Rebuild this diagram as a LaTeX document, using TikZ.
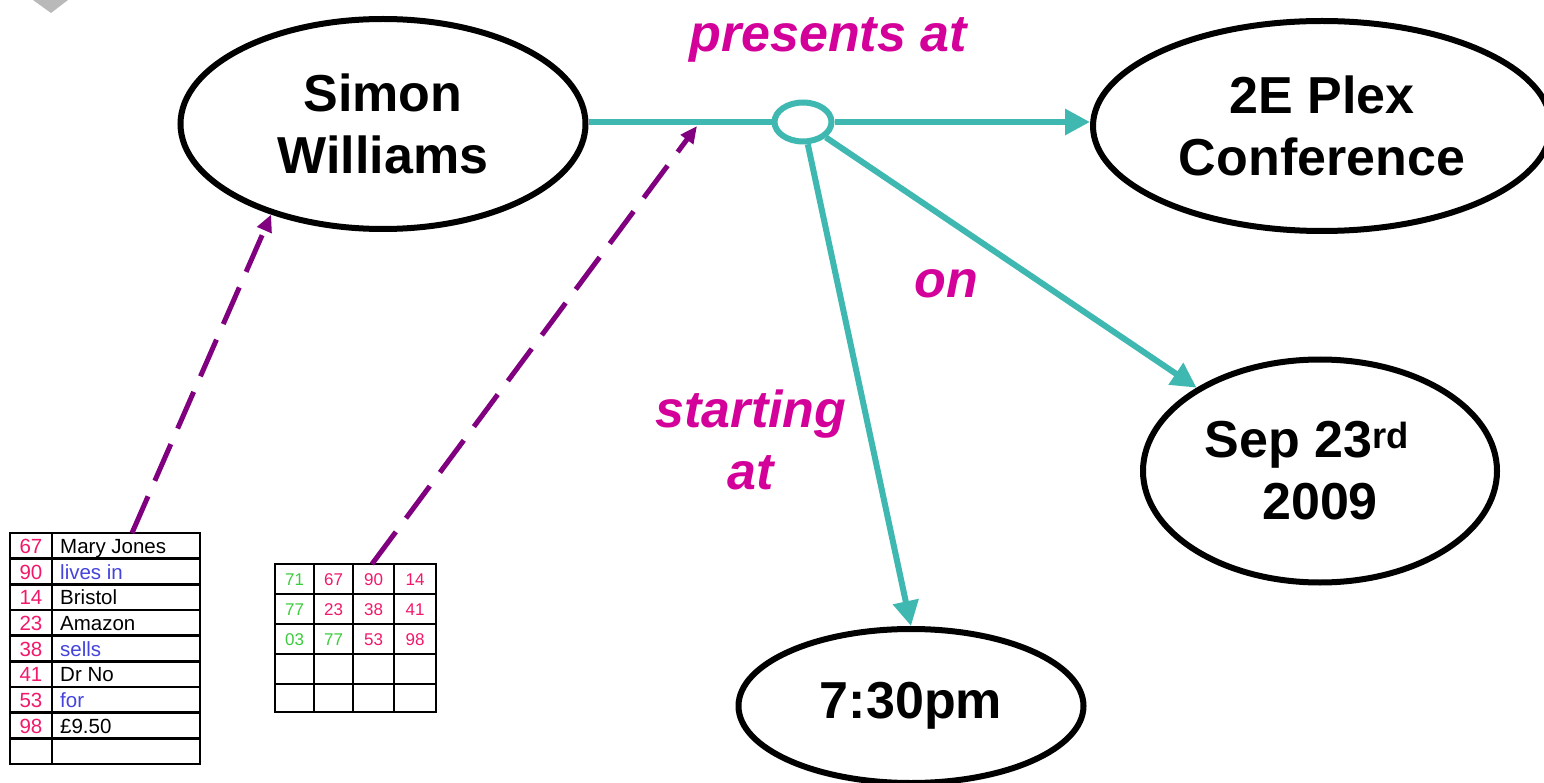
\documentclass[tikz,border=0pt]{standalone}
\usepackage{fontspec}
\setmainfont{Liberation Sans}
\usetikzlibrary{shapes.geometric,arrows.meta}
\definecolor{tealc}{HTML}{3FB8B1}
\definecolor{purp}{HTML}{800080}
\definecolor{mag}{HTML}{D4009A}
\definecolor{numpink}{HTML}{F2186B}
\definecolor{tblue}{HTML}{4444DD}
\definecolor{tgreen}{HTML}{3DCC3D}
\begin{document}
\begin{tikzpicture}[x=1pt,y=-1pt,
  ent/.style={ellipse,draw=black,line width=6pt,inner sep=0pt,align=center,
    font=\bfseries\fontsize{52}{62}\selectfont},
  rel/.style={draw=tealc,line width=6pt},
  relarrow/.style={rel,-{Triangle[length=25pt,width=25pt]}},
  link/.style={draw=purp,line width=5pt,dash pattern=on 40pt off 17pt,
    -{Triangle[length=17pt,width=15pt]}},
  lab/.style={text=mag,align=center,font=\bfseries\itshape\fontsize{52}{62}\selectfont},
  grid/.style={draw=black,line width=2.5pt},
  numa/.style={text=numpink,anchor=base,font=\fontsize{20.5}{24}\selectfont,inner sep=0pt},
  txta/.style={anchor=base west,font=\fontsize{20.5}{24}\selectfont,inner sep=0pt},
  numb/.style={anchor=base,font=\fontsize{17}{20}\selectfont,inner sep=0pt}
]
\useasboundingbox (0,0) rectangle (1544,783);
\fill[white] (0,0) rectangle (1544,783);
% small grey marker at top left
\fill[gray!55] (33,0) -- (68,0) -- (51,13) -- cycle;

% entity ellipses
\node[ent,minimum width=405pt,minimum height=210pt] (simon) at (383,124) {Simon\\Williams};
\node[ent,minimum width=458pt,minimum height=210pt] (plex) at (1322,126) {2E Plex\\Conference};
\node[ent,minimum width=354pt,minimum height=223pt] (sep) at (1320,471) {Sep 23\textsuperscript{rd}\hspace*{26pt}\\2009};
\node[ent,minimum width=345pt,minimum height=154pt] (time) at (911,706) {7:30pm};

% relation hub
\node[ellipse,draw=tealc,line width=6pt,minimum width=57pt,minimum height=39pt,inner sep=0pt] (hub) at (803,122) {};

% relation connectors
\draw[rel] (hub.west) -- (hub.west -| simon.east);
\draw[relarrow] (hub.east) -- (hub.east -| plex.west);
\draw[relarrow] (hub) -- (sep);
\draw[relarrow] (hub) -- (time.north);

% labels
\node[lab,anchor=base] (lpres) at (828,52) {presents at};
\node[lab,anchor=base] (lon) at (946,298) {on};
\node[lab] (lstart) at (751,440) {starting\\at};

% table 1
\draw[grid] (10,533) rectangle (200,764);
\draw[grid] (52,533) -- (52,764);
\foreach \k in {1,...,8} {
  \draw[grid] (10,{533+25.667*\k}) -- (200,{533+25.667*\k});
}
\foreach \k/\n/\t/\c in {0/67/Mary Jones/black,1/90/lives in/tblue,2/14/Bristol/black,
  3/23/Amazon/black,4/38/sells/tblue,5/41/Dr No/black,6/53/for/tblue,7/98/£9.50/black} {
  \node[numa] (ta\k) at (31,{533+25.667*\k+20.5}) {\n};
  \node[txta,text=\c] (tb\k) at (60,{533+25.667*\k+20.5}) {\t};
}
\coordinate (tabatop) at (132,533);

% table 2
\draw[grid] (275,564) rectangle (436,712);
\foreach \xx in {314,353,394} { \draw[grid] (\xx,564) -- (\xx,712); }
\foreach \yy in {594,624,654,684} { \draw[grid] (275,\yy) -- (436,\yy); }
\foreach \k/\a/\ca/\b/\cb/\c/\d in {0/71/tgreen/67/numpink/90/14,1/77/tgreen/23/numpink/38/41,2/03/tgreen/77/tgreen/53/98} {
  \node[numb,text=\ca] (tc\k a) at (294.5,{564+30*\k+21.5}) {\a};
  \node[numb,text=\cb] (tc\k b) at (333.5,{564+30*\k+21.5}) {\b};
  \node[numb,text=numpink] (tc\k c) at (373.5,{564+30*\k+21.5}) {\c};
  \node[numb,text=numpink] (tc\k d) at (415,{564+30*\k+21.5}) {\d};
}
\coordinate (tabbtop) at (372,564);
\coordinate (edgepoint) at (697,126);

% dashed links
\draw[link] (tabatop) -- (simon.219);
\draw[link] (tabbtop) -- (edgepoint);
\end{tikzpicture}
\end{document}
